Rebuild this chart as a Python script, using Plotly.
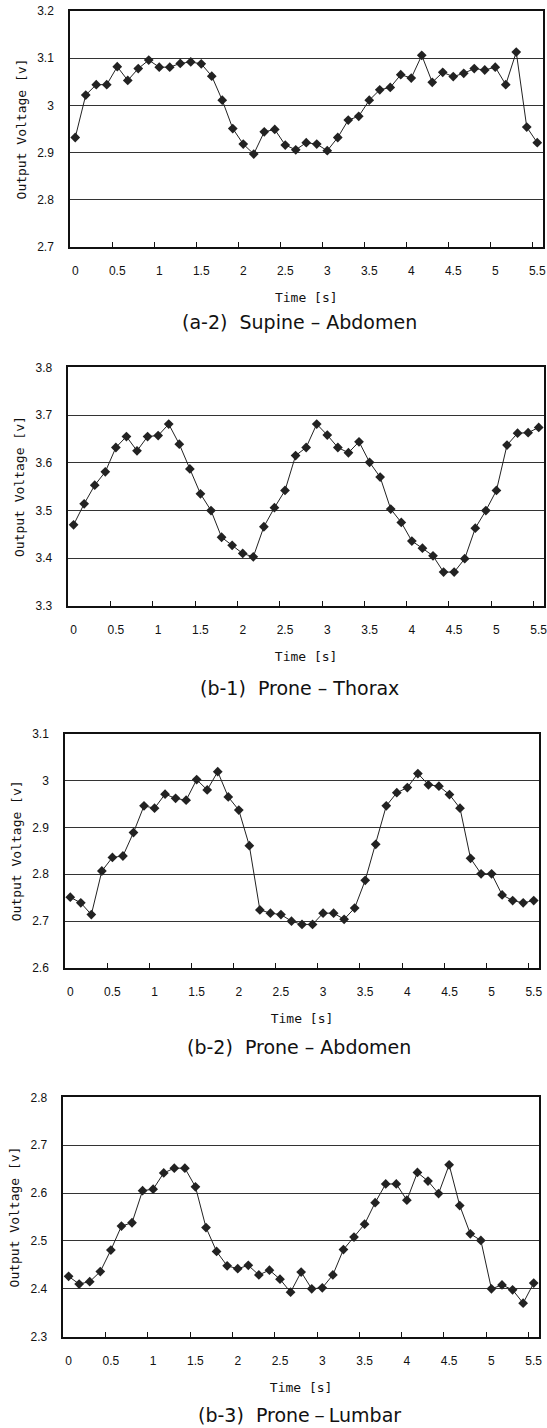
import plotly.graph_objects as go

# ---------------- data ----------------
time_s = [0, 0.125, 0.25, 0.375, 0.5, 0.625, 0.75, 0.875, 1.0, 1.125, 1.25, 1.375,
          1.5, 1.625, 1.75, 1.875, 2.0, 2.125, 2.25, 2.375, 2.5, 2.625, 2.75, 2.875,
          3.0, 3.125, 3.25, 3.375, 3.5, 3.625, 3.75, 3.875, 4.0, 4.125, 4.25, 4.375,
          4.5, 4.625, 4.75, 4.875, 5.0, 5.125, 5.25, 5.375, 5.5]

supine_abdomen = [2.932, 3.022, 3.044, 3.044, 3.082, 3.053, 3.078, 3.096, 3.081, 3.081,
                  3.089, 3.092, 3.088, 3.062, 3.011, 2.951, 2.918, 2.897, 2.944, 2.949,
                  2.916, 2.906, 2.921, 2.918, 2.904, 2.932, 2.969, 2.977, 3.011, 3.033,
                  3.038, 3.065, 3.058, 3.106, 3.049, 3.070, 3.061, 3.068, 3.078, 3.075,
                  3.081, 3.044, 3.113, 2.954, 2.921]

prone_thorax = [3.470, 3.514, 3.553, 3.581, 3.632, 3.655, 3.625, 3.655, 3.657, 3.681,
                3.639, 3.587, 3.535, 3.500, 3.444, 3.427, 3.410, 3.403, 3.466, 3.506,
                3.542, 3.615, 3.632, 3.681, 3.658, 3.632, 3.621, 3.644, 3.601, 3.570,
                3.503, 3.475, 3.436, 3.421, 3.405, 3.371, 3.371, 3.399, 3.463, 3.500,
                3.542, 3.637, 3.662, 3.663, 3.674]

prone_abdomen = [2.751, 2.739, 2.714, 2.807, 2.836, 2.839, 2.889, 2.946, 2.941, 2.971,
                 2.962, 2.958, 3.002, 2.980, 3.019, 2.965, 2.937, 2.861, 2.724, 2.717,
                 2.714, 2.700, 2.693, 2.693, 2.717, 2.717, 2.704, 2.728, 2.787, 2.864,
                 2.946, 2.974, 2.985, 3.015, 2.991, 2.988, 2.970, 2.941, 2.834, 2.801,
                 2.801, 2.756, 2.744, 2.739, 2.744]

prone_lumbar = [2.426, 2.410, 2.415, 2.436, 2.481, 2.531, 2.538, 2.605, 2.608, 2.642,
                2.652, 2.652, 2.613, 2.528, 2.478, 2.448, 2.442, 2.449, 2.429, 2.439,
                2.420, 2.393, 2.435, 2.400, 2.402, 2.429, 2.482, 2.508, 2.535, 2.580,
                2.619, 2.619, 2.585, 2.643, 2.625, 2.599, 2.659, 2.574, 2.515, 2.501,
                2.400, 2.408, 2.398, 2.370, 2.412]

x_tick_vals = [0, 0.5, 1, 1.5, 2, 2.5, 3, 3.5, 4, 4.5, 5, 5.5]
x_tick_text = ["0", "0.5", "1", "1.5", "2", "2.5", "3", "3.5", "4", "4.5", "5", "5.5"]
# tick marks sit between samples (category boundaries)
x_mark_vals = [0.4375, 0.9375, 1.4375, 1.9375, 2.4375, 2.9375, 3.4375, 3.9375,
               4.4375, 4.9375, 5.4375]

y_ticks_a2 = [2.7, 2.8, 2.9, 3.0, 3.1, 3.2]
y_text_a2 = ["2.7", "2.8", "2.9", "3", "3.1", "3.2"]
y_ticks_b1 = [3.3, 3.4, 3.5, 3.6, 3.7, 3.8]
y_text_b1 = ["3.3", "3.4", "3.5", "3.6", "3.7", "3.8"]
y_ticks_b2 = [2.6, 2.7, 2.8, 2.9, 3.0, 3.1]
y_text_b2 = ["2.6", "2.7", "2.8", "2.9", "3", "3.1"]
y_ticks_b3 = [2.3, 2.4, 2.5, 2.6, 2.7, 2.8]
y_text_b3 = ["2.3", "2.4", "2.5", "2.6", "2.7", "2.8"]

captions = ["(a-2)  Supine \u2013 Abdomen", "(b-1)  Prone \u2013 Thorax",
            "(b-2)  Prone \u2013 Abdomen", "(b-3)  Prone\uff0dLumbar"]
x_title = "Time [s]"
y_title = "Output Voltage [v]"

# ---------------- layout ----------------
W, H = 547, 1428
panels = [
    dict(series=supine_abdomen, yt=y_ticks_a2, ytt=y_text_a2, box=(70, 542.5, 11, 247), cap_y=321.7),
    dict(series=prone_thorax, yt=y_ticks_b1, ytt=y_text_b1, box=(68.3, 544, 367.3, 606), cap_y=688),
    dict(series=prone_abdomen, yt=y_ticks_b2, ytt=y_text_b2, box=(65, 539, 733.7, 968), cap_y=1047),
    dict(series=prone_lumbar, yt=y_ticks_b3, ytt=y_text_b3, box=(63.3, 539, 1097.3, 1336.7), cap_y=1415),
]

tick_font = dict(family="Liberation Sans, Arial, sans-serif", size=12, color="#111")
title_font = dict(family="DejaVu Sans Mono, monospace", size=13, color="#111")
cap_font = dict(family="DejaVu Sans, sans-serif", size=19, color="#111")

fig = go.Figure()
annotations = []
for i, p in enumerate(panels, start=1):
    sfx = "" if i == 1 else str(i)
    x0, x1, y0, y1 = p["box"]
    fig.add_trace(go.Scatter(
        x=time_s, y=p["series"], mode="lines+markers",
        xaxis="x" + sfx, yaxis="y" + sfx,
        line=dict(color="#222", width=1),
        marker=dict(symbol="diamond", size=7.5, color="#222"),
        showlegend=False, hoverinfo="skip"))
    xa = dict(
        domain=[x0 / W, x1 / W], anchor="y" + sfx, range=[-0.0625, 5.5625],
        tickmode="array", tickvals=x_tick_vals, ticktext=x_tick_text, ticks="",
        tickfont=tick_font, ticklabelstandoff=12, ticklabeloverflow="allow",
        showgrid=False, zeroline=False,
        showline=True, linecolor="#111", linewidth=1.5, mirror=True,
        minor=dict(tickmode="array", tickvals=x_mark_vals, ticks="inside", ticklen=5,
                   tickcolor="#111", tickwidth=1, showgrid=False),
        title=dict(text=x_title, font=title_font, standoff=16),
        automargin=False,
    )
    ya = dict(
        domain=[1 - y1 / H, 1 - y0 / H], anchor="x" + sfx,
        range=[p["yt"][0], p["yt"][-1]],
        tickmode="array", tickvals=p["yt"], ticktext=p["ytt"], ticks="",
        tickfont=tick_font, ticklabelstandoff=12, ticklabeloverflow="allow",
        showgrid=True, gridcolor="#333", gridwidth=1, zeroline=False,
        showline=True, linecolor="#111", linewidth=1.5, mirror=True,
        title=dict(text=y_title, font=title_font, standoff=8),
        automargin=False,
    )
    fig.update_layout(**{"xaxis" + sfx: xa, "yaxis" + sfx: ya})
    annotations.append(dict(
        text=captions[i - 1], xref="paper", yref="paper",
        x=299 / W, y=1 - p["cap_y"] / H, xanchor="center", yanchor="middle",
        showarrow=False, font=cap_font))

fig.update_layout(
    width=W, height=H, margin=dict(l=0, r=0, t=0, b=0),
    paper_bgcolor="white", plot_bgcolor="white",
    annotations=annotations,
)

fig.write_html("out.html")
